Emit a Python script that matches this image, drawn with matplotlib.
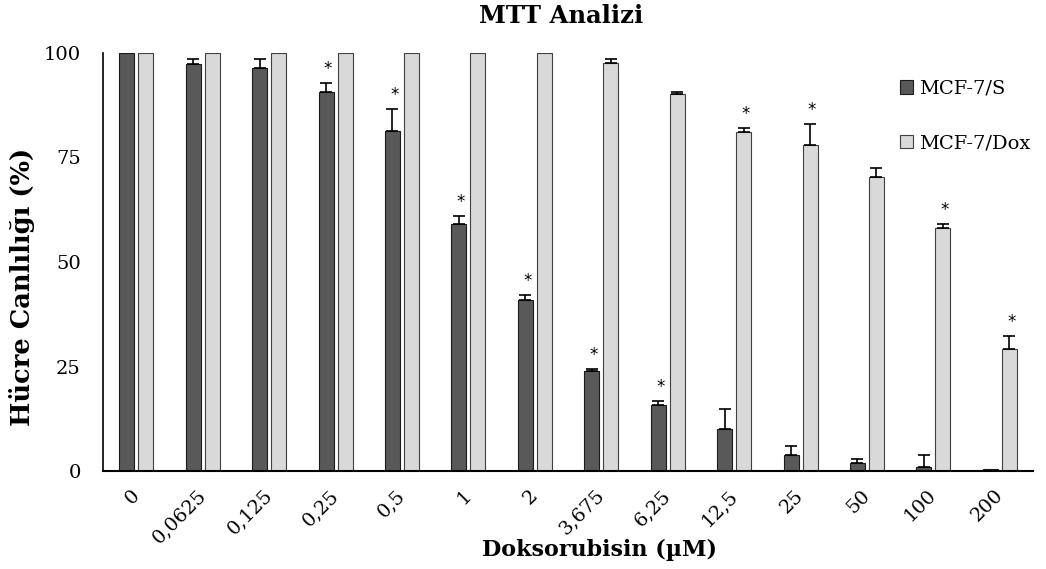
import numpy as np
import matplotlib
matplotlib.use('Agg')
import matplotlib.pyplot as plt
from matplotlib.transforms import ScaledTranslation

plt.rcParams['font.family'] = 'DejaVu Serif'

# concentrations (x categories)
doses = ['0', '0,0625', '0,125', '0,25', '0,5', '1', '2', '3,675',
         '6,25', '12,5', '25', '50', '100', '200']

# cell viability (%) and upper error
mcf7_s = [100, 97.4, 96.5, 90.6, 81.4, 59.0, 41.0, 23.9,
          15.9, 10.0, 3.9, 1.9, 0.9, 0.4]
mcf7_s_err = [0, 1.1, 2.0, 2.1, 5.1, 2.0, 1.0, 0.5,
              0.9, 4.9, 2.1, 1.0, 3.0, 0]
mcf7_dox = [100, 100, 100, 100, 100, 100, 100, 97.5,
            90.1, 81.1, 78.0, 70.4, 58.2, 29.2]
mcf7_dox_err = [0, 0, 0, 0, 0, 0, 0, 1.0,
                0.6, 0.9, 5.1, 2.1, 1.0, 3.1]

# significance marks
star_s = [3, 4, 5, 6, 7, 8]
star_dox = [9, 10, 12, 13]

dark = '#595959'
light = '#d9d9d9'

fig = plt.figure(figsize=(10.46, 5.69), dpi=100)
ax = fig.add_axes([0.0985, 0.1722, 0.8891, 0.7347])

x = np.arange(len(doses))
w = 0.225
off = 0.143

ax.bar(x - off, mcf7_s, w, color=dark, edgecolor='#1a1a1a', linewidth=0.8,
       label='MCF-7/S', zorder=2)
ax.bar(x + off, mcf7_dox, w, color=light, edgecolor='#404040', linewidth=0.8,
       label='MCF-7/Dox', zorder=2)

# only upper error bars
s_err = np.array(mcf7_s_err)
d_err = np.array(mcf7_dox_err)
m = s_err > 0
ax.errorbar((x - off)[m], np.array(mcf7_s)[m], yerr=[np.zeros(m.sum()), s_err[m]],
            fmt='none', ecolor='black', elinewidth=1.2, capsize=4.5, capthick=1.2, zorder=3)
m = d_err > 0
ax.errorbar((x + off)[m], np.array(mcf7_dox)[m], yerr=[np.zeros(m.sum()), d_err[m]],
            fmt='none', ecolor='black', elinewidth=1.2, capsize=4.5, capthick=1.2, zorder=3)

for i in star_s:
    ax.text(i - off + 0.03, mcf7_s[i] + mcf7_s_err[i] + 1.2, '*', ha='center', va='bottom',
            fontsize=12, family='DejaVu Sans')
for i in star_dox:
    ax.text(i + off + 0.03, mcf7_dox[i] + mcf7_dox_err[i] + 1.2, '*', ha='center', va='bottom',
            fontsize=12, family='DejaVu Sans')

ax.set_xlim(-0.5, len(doses) - 0.5)
ax.set_ylim(0, 100)
ax.set_yticks([0, 25, 50, 75, 100])
ax.tick_params(axis='y', length=0, labelsize=14, pad=16)
ax.set_xticks(x)
ax.set_xticklabels(doses, rotation=45, ha='right', va='top', rotation_mode='anchor')
ax.tick_params(axis='x', length=0, labelsize=14, pad=11)
shift = ScaledTranslation(-6 / 100, 0, fig.dpi_scale_trans)
for lab in ax.get_xticklabels():
    lab.set_transform(lab.get_transform() + shift)

for sp in ['top', 'right']:
    ax.spines[sp].set_visible(False)
ax.spines['left'].set_linewidth(1.2)
ax.spines['bottom'].set_linewidth(1.5)

fig.text(561 / 1046, 1 - 16 / 569, 'MTT Analizi', ha='center', va='center',
         fontsize=17.5, fontweight='bold')
fig.text(599 / 1046, 1 - 550 / 569, 'Doksorubisin (µM)', ha='center', va='center',
         fontsize=16, fontweight='bold')
fig.text(22 / 1046, 1 - 287 / 569, 'Hücre Canlılığı (%)', ha='center', va='center',
         rotation=90, fontsize=18.5, fontweight='bold')

ax.legend(loc='upper left', bbox_to_anchor=(882 / 1046, 1 - 62 / 569),
          bbox_transform=fig.transFigure, frameon=False, fontsize=14,
          handlelength=0.7, handleheight=0.7, handletextpad=0.3, labelspacing=1.9)

fig.savefig('out.png', dpi=100)
